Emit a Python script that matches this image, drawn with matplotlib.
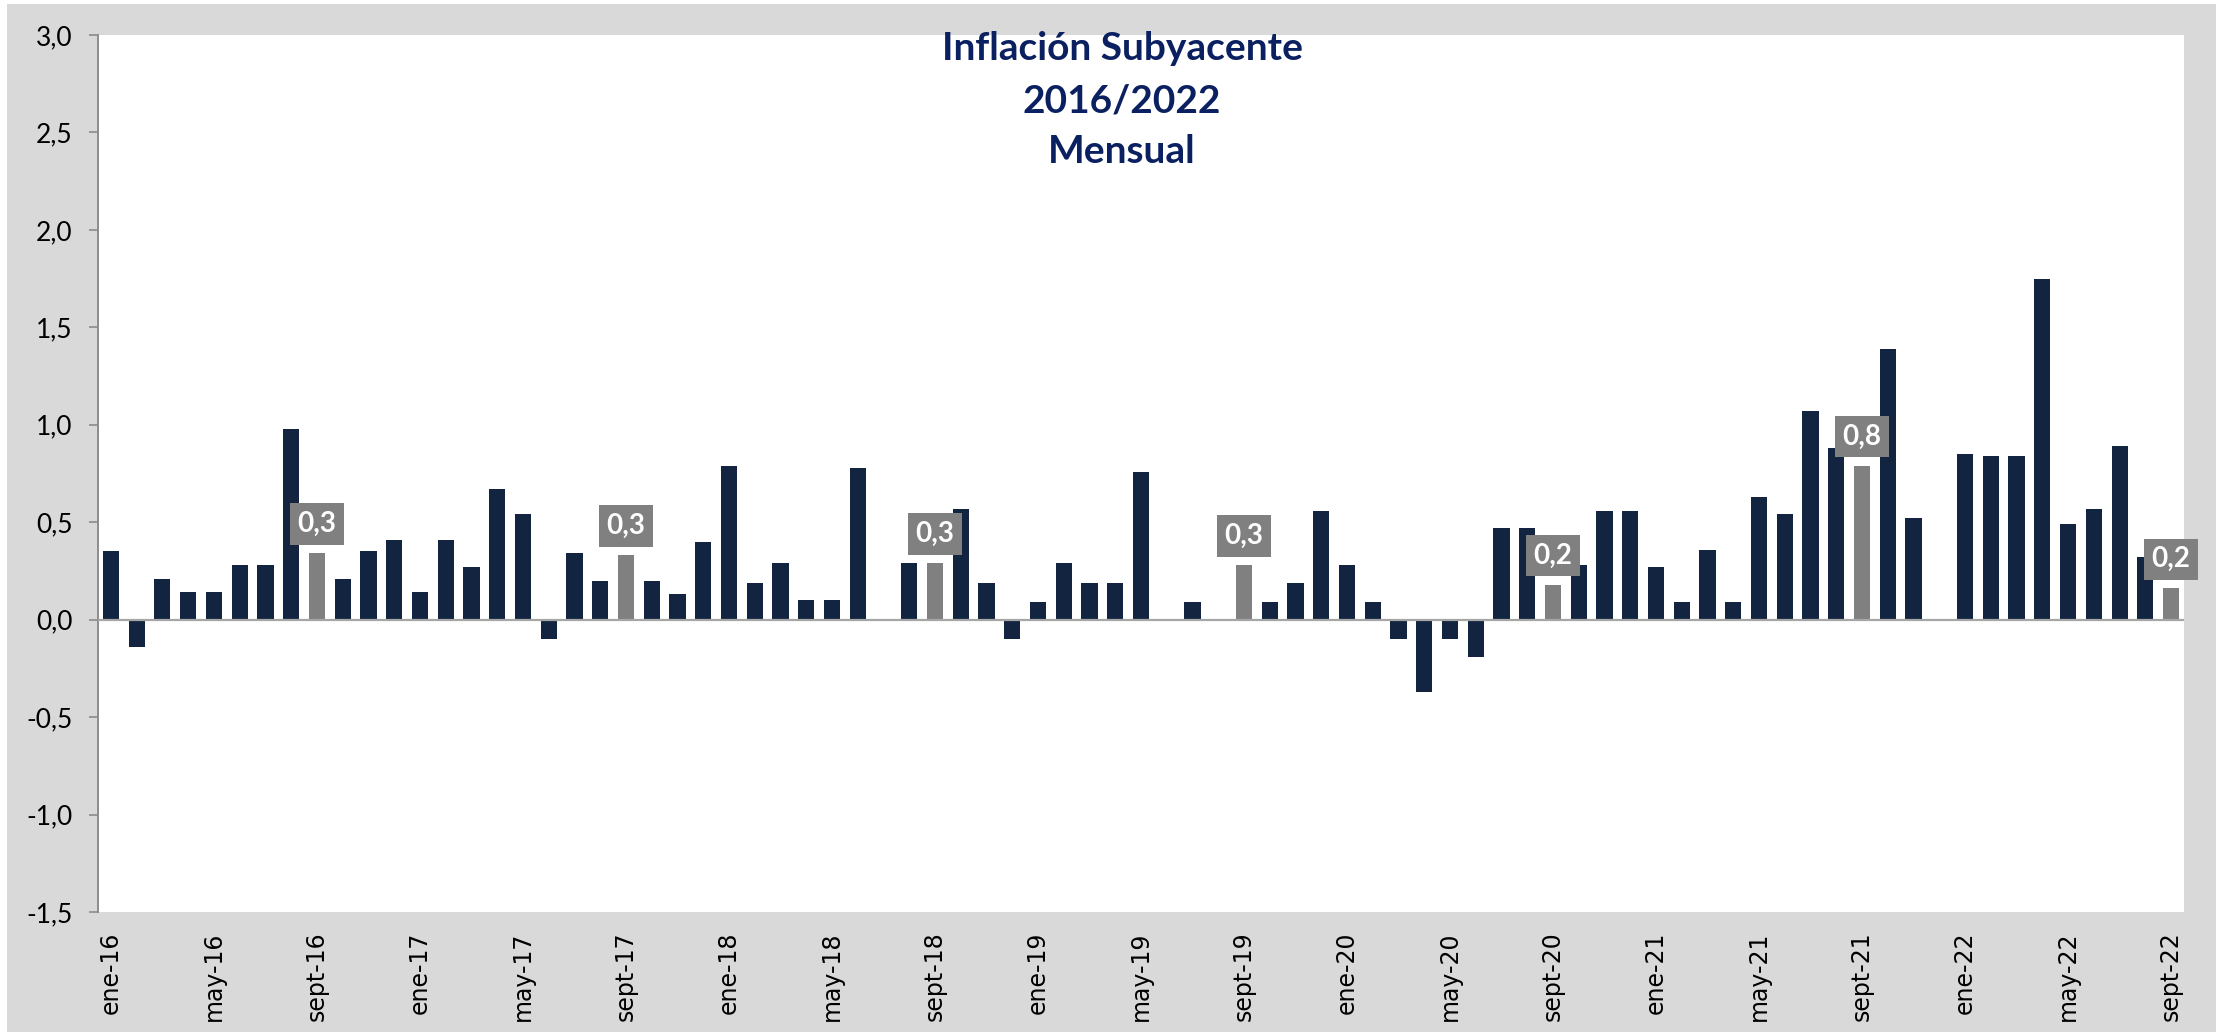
import numpy as np
import matplotlib
matplotlib.use("Agg")
import matplotlib.pyplot as plt
from matplotlib.patches import Rectangle
from matplotlib.ticker import FuncFormatter

# monthly core inflation, ene-16 .. sept-22 (81 months)
months = ["ene", "feb", "mar", "abr", "may", "jun", "jul", "ago", "sept", "oct", "nov", "dic"]
years = ["16", "17", "18", "19", "20", "21", "22"]
periods = [f"{m}-{y}" for y in years for m in months][:81]

values = [
    0.35, -0.14, 0.21, 0.14, 0.14, 0.28, 0.28, 0.98, 0.34, 0.21, 0.35, 0.41,   # 2016
    0.14, 0.41, 0.27, 0.67, 0.54, -0.10, 0.34, 0.20, 0.33, 0.20, 0.13, 0.40,   # 2017
    0.79, 0.19, 0.29, 0.10, 0.10, 0.78, 0.00, 0.29, 0.29, 0.57, 0.19, -0.10,   # 2018
    0.09, 0.29, 0.19, 0.19, 0.76, 0.00, 0.09, 0.00, 0.28, 0.09, 0.19, 0.56,    # 2019
    0.28, 0.09, -0.10, -0.37, -0.10, -0.19, 0.47, 0.47, 0.18, 0.28, 0.56, 0.56, # 2020
    0.27, 0.09, 0.36, 0.09, 0.63, 0.54, 1.07, 0.88, 0.79, 1.39, 0.52, 0.00,    # 2021
    0.85, 0.84, 0.84, 1.75, 0.49, 0.57, 0.89, 0.32, 0.16,                      # 2022
]

highlight_idx = [8, 20, 32, 44, 56, 68, 80]   # every September
tick_idx = list(range(0, 81, 4))
y_ticks = [-1.5, -1.0, -0.5, 0.0, 0.5, 1.0, 1.5, 2.0, 2.5, 3.0]

title_lines = ["Inflación Subyacente", "2016/2022", "Mensual"]

NAVY = "#12243f"
GREY = "#808080"
BG = "#d9d9d9"
TITLE_C = "#0a2060"

W, H = 2216, 1032
fig = plt.figure(figsize=(W / 100, H / 100), dpi=100, facecolor="white")
fig.patches.append(Rectangle((7 / W, 0), 1 - 7 / W, 1 - 4 / H, transform=fig.transFigure,
                             facecolor=BG, edgecolor="none", zorder=-10))

ax = fig.add_axes([98 / W, (H - 912) / H, (2184 - 98) / W, (912 - 35) / H])
ax.set_facecolor("white")

x = np.arange(len(values))
colors = [GREY if i in highlight_idx else NAVY for i in x]
ax.bar(x, values, width=0.63, color=colors, zorder=2)
ax.axhline(0, color="#a6a6a6", lw=1.6, zorder=3)

ax.set_xlim(-0.5, len(values) - 0.5)
ax.set_ylim(-1.5, 3.0)
ax.set_yticks(y_ticks)
ax.yaxis.set_major_formatter(FuncFormatter(lambda v, p: f"{v:.1f}".replace(".", ",")))
ax.set_xticks(tick_idx)
ax.set_xticklabels([periods[i] for i in tick_idx], rotation=90, fontsize=17,
                   family="DejaVu Sans")

ax.tick_params(axis="y", length=6.5, width=1.2, color="#8c8c8c", pad=12, labelsize=19)
ax.tick_params(axis="x", length=0, pad=14)
for lab in ax.get_yticklabels():
    lab.set_family("Lato")

for s in ["top", "right", "bottom"]:
    ax.spines[s].set_visible(False)
ax.spines["left"].set_color("#8c8c8c")
ax.spines["left"].set_linewidth(1.4)

for i in highlight_idx:
    v = values[i]
    ax.annotate(f"{v:.1f}".replace(".", ","), xy=(i, v), xytext=(0, 21),
                textcoords="offset points", ha="center", va="center",
                fontsize=20, fontweight="bold", color="white", family="Lato",
                bbox=dict(boxstyle="square,pad=0.28", fc=GREY, ec="none"),
                zorder=5, annotation_clip=False)

baselines = [60, 112, 163]
for line, yb in zip(title_lines, baselines):
    fig.text(1122 / W, 1 - yb / H, line, ha="center", va="baseline",
             fontsize=28, fontweight="bold", color=TITLE_C, family="Lato")

fig.savefig("out.png", dpi=100, facecolor=fig.get_facecolor())
